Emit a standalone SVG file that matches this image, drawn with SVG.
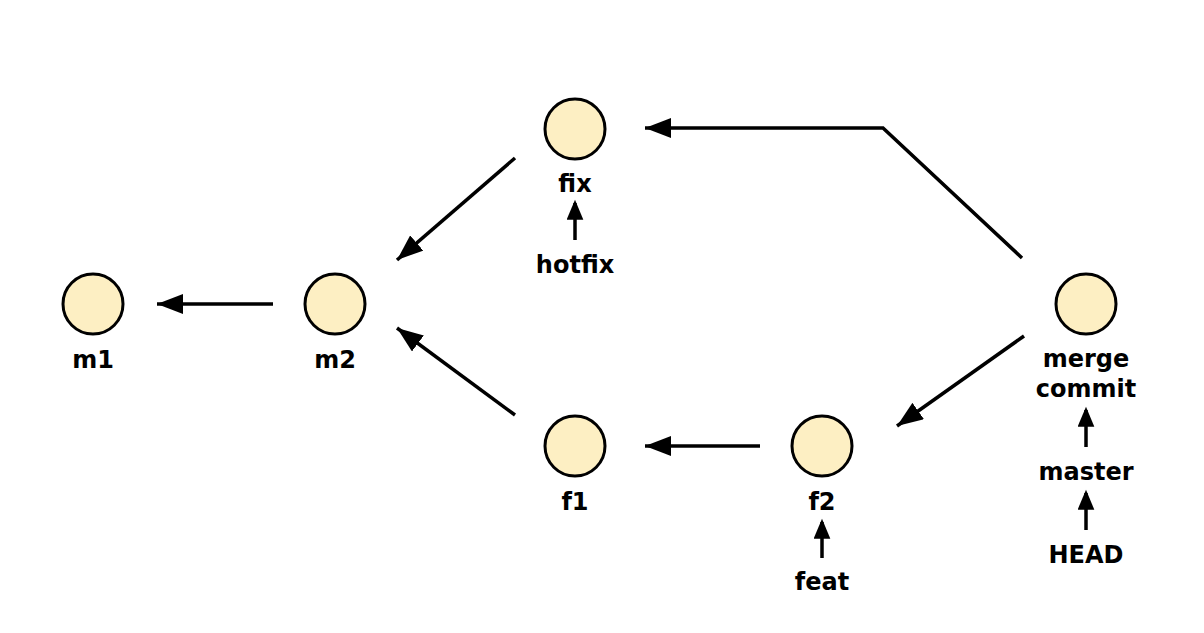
<svg xmlns="http://www.w3.org/2000/svg" width="1204" height="633" viewBox="0 0 1204 633">
<defs>
<marker id="ah" viewBox="0 0 26 20" refX="26" refY="10" markerWidth="26" markerHeight="20" markerUnits="userSpaceOnUse" orient="auto">
<path d="M0,0 L26,10 L0,20 Z" fill="#000"/>
</marker>
<marker id="sh" viewBox="0 0 20 24" refX="20" refY="10" markerWidth="24" markerHeight="20" markerUnits="userSpaceOnUse" orient="auto">
<path d="M0,0 L24,10 L0,20 Z" fill="#000"/>
</marker>
</defs>
<style>
.n{fill:#fdefc3;stroke:#000;stroke-width:3}
.t{font-family:"DejaVu Sans",Verdana,sans-serif;font-weight:bold;font-size:24px;fill:#000;text-anchor:middle}
.c{fill:none;stroke:#000;stroke-width:3.5;marker-end:url(#ah)}
.s{fill:none;stroke:#000;stroke-width:3.5;marker-end:url(#sh)}
</style>
<rect width="1204" height="633" fill="#fff"/>
<g id="connectors">
<line class="c" x1="273" y1="304" x2="157" y2="304"/>
<line class="c" x1="515" y1="158" x2="397" y2="260"/>
<line class="c" x1="515" y1="415" x2="397" y2="328"/>
<line class="c" x1="760" y1="446" x2="645" y2="446"/>
<line class="c" x1="1024" y1="336" x2="897" y2="426"/>
<polyline class="c" points="1022,258 883,128 645,128"/>
<line class="s" x1="575" y1="240" x2="575" y2="203"/>
<line class="s" x1="822" y1="558" x2="822" y2="522"/>
<line class="s" x1="1086" y1="447" x2="1086" y2="410"/>
<line class="s" x1="1086" y1="530" x2="1086" y2="493"/>
</g>
<g id="m1"><circle class="n" cx="93" cy="304" r="30"/><text class="t" x="93" y="368">m1</text></g>
<g id="m2"><circle class="n" cx="335" cy="304" r="30"/><text class="t" x="335" y="368">m2</text></g>
<g id="fix"><circle class="n" cx="575" cy="129" r="30"/><text class="t" x="575" y="192">fix</text></g>
<g id="hotfix"><text class="t" x="575" y="273">hotfix</text></g>
<g id="f1"><circle class="n" cx="575" cy="446" r="30"/><text class="t" x="575" y="510">f1</text></g>
<g id="f2"><circle class="n" cx="822" cy="446" r="30"/><text class="t" x="822" y="510">f2</text></g>
<g id="feat"><text class="t" x="822" y="590">feat</text></g>
<g id="merge"><circle class="n" cx="1086" cy="304" r="30"/><text class="t" x="1086" y="367">merge</text><text class="t" x="1086" y="397">commit</text></g>
<g id="master"><text class="t" x="1086" y="480">master</text></g>
<g id="HEAD"><text class="t" x="1086" y="563">HEAD</text></g>
</svg>
